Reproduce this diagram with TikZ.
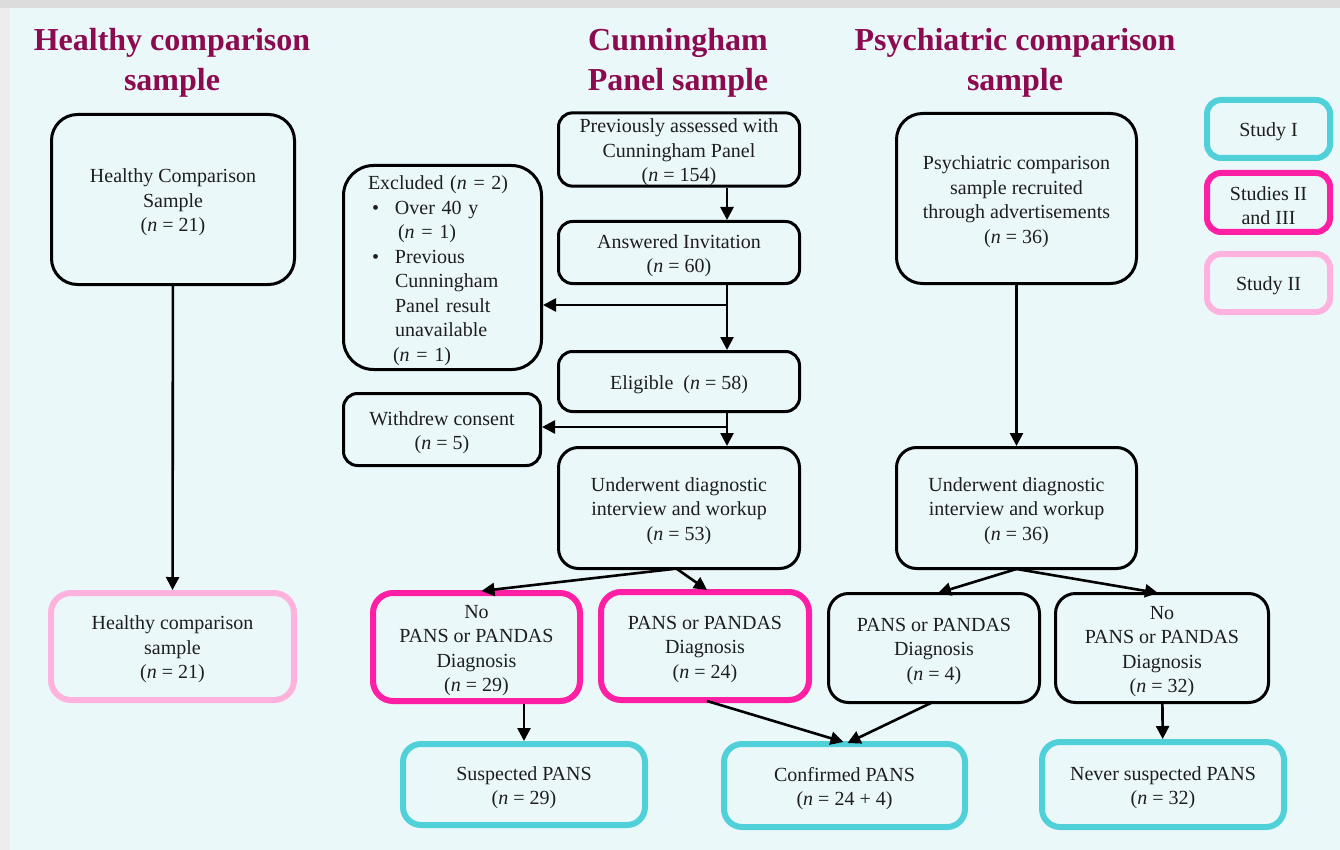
\documentclass[tikz,border=0pt]{standalone}
\usepackage{fontspec}
\setmainfont{Liberation Serif}
\usetikzlibrary{arrows.meta,calc}
\definecolor{panelbg}{HTML}{EBF8FA}
\definecolor{graytop}{HTML}{DCDCDC}
\definecolor{grayleft}{HTML}{EDEDED}
\definecolor{titlecol}{HTML}{8C0A50}
\definecolor{txtcol}{HTML}{1E1E1E}
\definecolor{cyanc}{HTML}{50D1D9}
\definecolor{magc}{HTML}{FF1FA5}
\definecolor{pinkc}{HTML}{FFB2DE}
\tikzset{
  basefont/.style={font=\rmfamily\fontsize{20}{24.5}\selectfont},
  box/.style={basefont, draw=black, line width=3pt, rounded corners=14pt, align=center, text=txtcol, inner sep=2pt},
  bigbox/.style={box, rounded corners=26pt},
  cyanbox/.style={box, draw=cyanc, line width=6pt, rounded corners=18pt},
  magbox/.style={box, draw=magc, line width=6pt, rounded corners=20pt},
  pinkbox/.style={box, draw=pinkc, line width=6pt, rounded corners=20pt},
  title/.style={font=\rmfamily\fontsize{32}{40}\selectfont\bfseries, text=titlecol, align=center},
  arr/.style={line width=2.6pt, draw=black, -{Triangle[length=13pt,width=13pt]}},
}
\newcommand{\nn}[1]{(\textit{n}~=~#1)}
\newcommand{\tp}{\rule{0pt}{20pt}}
\begin{document}
\begin{tikzpicture}[x=1pt,y=-1pt]
\useasboundingbox (0,0) rectangle (1340,850);
\fill[grayleft] (0,0) rectangle (1340,850);
\fill[graytop] (0,0) rectangle (1340,8);
\fill[panelbg] (10,8) rectangle (1340,850);

% titles
\node[title] (t1) at (172,63) {Healthy comparison\\sample};
\node[title] (t2) at (678,63) {Cunningham\\Panel sample};
\node[title] (t3) at (1015,63) {Psychiatric comparison\\sample};

% left column
\node[bigbox, minimum width=243pt, minimum height=170pt] (hc1) at (173,199.5) {\tp Healthy Comparison\\Sample\\\nn{21}};
\node[pinkbox, minimum width=243pt, minimum height=107pt] (hc2) at (172.5,646.5) {\tp Healthy comparison\\sample\\\nn{21}};

% middle column
\node[box, inner ysep=0pt, minimum width=241pt, minimum height=72pt] (p1) at (679,149.5) {\tp Previously assessed with\\Cunningham Panel\\\nn{154}};
\node[box, minimum width=241pt, minimum height=62pt] (p2) at (679,252.5) {\tp Answered Invitation\\\nn{60}};
\node[box, rounded corners=30pt, minimum width=198pt, minimum height=204pt, text width=149pt, align=left] (excl) at (442.5,267.5) {\tp Excluded \nn{2}\\
\hspace*{4pt}\makebox[23pt][l]{\textbullet}Over 40 y\\
\hspace*{30pt}\nn{1}\\
\hspace*{4pt}\makebox[23pt][l]{\textbullet}Previous\\
\hspace*{27pt}Cunningham\\
\hspace*{27pt}Panel result\\
\hspace*{27pt}unavailable\\
\hspace*{25pt}\nn{1}};
\node[box, minimum width=241pt, minimum height=60pt] (elig) at (679,381.5) {\tp Eligible~~\nn{58}};
\node[box, minimum width=197pt, minimum height=72pt] (wd) at (442,429.5) {\tp Withdrew consent\\\nn{5}};
\node[box, rounded corners=20pt, minimum width=241pt, minimum height=121pt] (und1) at (679,508) {\tp Underwent diagnostic\\interview and workup\\\nn{53}};
\node[magbox, minimum width=207pt, minimum height=108pt] (nop1) at (476.5,647) {\tp No\\PANS or PANDAS\\Diagnosis\\\nn{29}};
\node[magbox, minimum width=208pt, minimum height=108pt] (pd1) at (705,646) {\tp PANS or PANDAS\\Diagnosis\\\nn{24}};
\node[cyanbox, minimum width=242pt, minimum height=81pt] (susp) at (524,784.5) {\tp Suspected PANS\\\nn{29}};
\node[cyanbox, minimum width=241pt, minimum height=83pt] (conf) at (844.5,785.5) {\tp Confirmed PANS\\\nn{24 + 4}};

% right column
\node[bigbox, minimum width=240pt, minimum height=170pt] (psy1) at (1016.5,198.5) {\tp Psychiatric comparison\\sample recruited\\through advertisements\\\nn{36}};
\node[box, rounded corners=20pt, minimum width=240pt, minimum height=121pt] (und2) at (1016.5,508) {\tp Underwent diagnostic\\interview and workup\\\nn{36}};
\node[box, rounded corners=20pt, minimum width=211pt, minimum height=109pt] (pd2) at (934,648) {\tp PANS or PANDAS\\Diagnosis\\\nn{4}};
\node[box, rounded corners=20pt, minimum width=213pt, minimum height=109pt] (nop2) at (1162,648) {\tp No\\PANS or PANDAS\\Diagnosis\\\nn{32}};
\node[cyanbox, minimum width=242pt, minimum height=85pt] (never) at (1163,784.5) {\tp Never suspected PANS\\\nn{32}};

% legend
\node[cyanbox, rounded corners=14pt, minimum width=123pt, minimum height=58pt] (l1) at (1268.5,129) {\tp Study I};
\node[magbox, rounded corners=14pt, minimum width=123pt, minimum height=59pt] (l2) at (1268.5,202.5) {\tp Studies II\\and III};
\node[pinkbox, rounded corners=14pt, minimum width=123pt, minimum height=58pt] (l3) at (1268.5,283) {\tp Study II};

% helper coordinates
\coordinate (ax) at (727,0);
\coordinate (b1) at (0,305);
\coordinate (b2) at (0,427);

% connectors
\draw[arr] (hc1) -- (hc2);
\draw[arr] (p1.south -| ax) -- (p2.north -| ax);
\draw[arr] (p2.south -| ax) -- (elig.north -| ax);
\draw[arr] (ax |- b1) -- (excl.east |- b1);
\draw[arr] (elig.south -| ax) -- (und1.north -| ax);
\draw[arr] (ax |- b2) -- (wd.east |- b2);
\draw[arr] ([xshift=-6pt,yshift=1pt]und1.south) -- ([xshift=5pt,yshift=-1pt]nop1.north);
\draw[arr] ([xshift=-2pt,yshift=1pt]und1.south) -- ([xshift=2pt,yshift=-1pt]pd1.north);
\draw[arr] (susp.north |- nop1.south) -- (susp.north);
\draw[arr] ([xshift=2pt,yshift=2pt]pd1.south) -- ([xshift=-1pt,yshift=-1pt]conf.north);
\draw[arr] ([xshift=-1pt,yshift=2pt]pd2.south) -- ([xshift=3pt,yshift=-2pt]conf.north);
\draw[arr] (psy1) -- (und2);
\draw[arr] ([yshift=1pt]und2.south) -- ([xshift=4pt,yshift=-1pt]pd2.north);
\draw[arr] ([yshift=1pt]und2.south) -- ([xshift=-4pt,yshift=-1pt]nop2.north);
\draw[arr] (nop2) -- (never);
\end{tikzpicture}
\end{document}
